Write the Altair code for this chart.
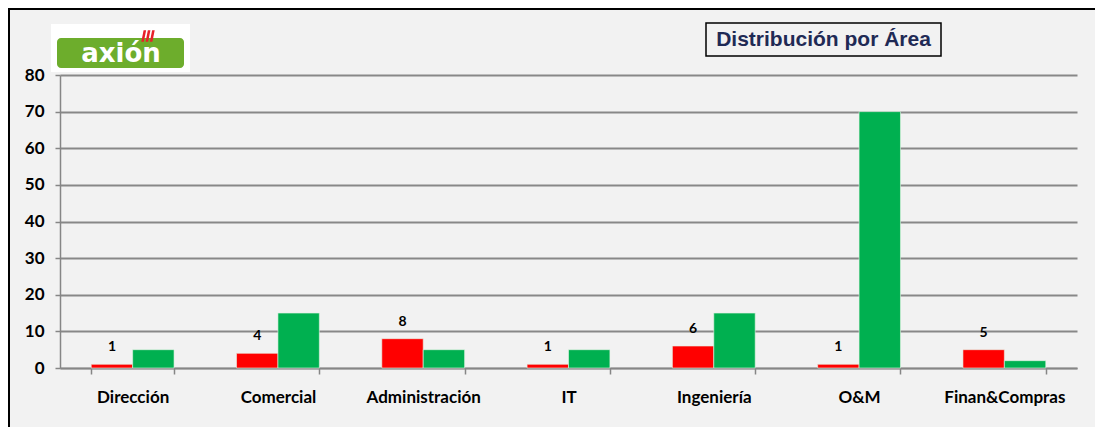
import altair as alt
import pandas as pd

areas = ["Dirección", "Comercial", "Administración", "IT", "Ingeniería", "O&M", "Finan&Compras"]
serie_roja = [1, 4, 8, 1, 6, 1, 5]
serie_verde = [5, 15, 5, 5, 15, 70, 2]
y_ticks = [0, 10, 20, 30, 40, 50, 60, 70, 80]
titulo = "Distribución por Área"
logo_texto = "axión"

rows = []
for a, r, g in zip(areas, serie_roja, serie_verde):
    rows.append({"area": a, "serie": "A", "valor": r})
    rows.append({"area": a, "serie": "B", "valor": g})
df = pd.DataFrame(rows)

W, H = 1017, 293
FONT = "Lato"

x_enc = alt.X("area:N", sort=areas, title=None,
              scale=alt.Scale(paddingInner=0.43, paddingOuter=0.215),
              axis=alt.Axis(labelAngle=0, labelFont=FONT, labelFontSize=17, labelFontWeight="bold",
                            labelColor="#000000", labelPadding=15, tickBand="extent", tickSize=6,
                            tickColor="#868686", tickWidth=1.5, domainColor="#868686", domainWidth=1.5))
xoff = alt.XOffset("serie:N", scale=alt.Scale(paddingInner=0, paddingOuter=0))
y_enc = alt.Y("valor:Q", title=None,
              scale=alt.Scale(domain=[0, 80], nice=False),
              axis=alt.Axis(values=y_ticks, labelFont=FONT, labelFontSize=17, labelFontWeight="bold",
                            labelColor="#000000", labelPadding=11, tickSize=5, tickColor="#868686",
                            tickWidth=1.5, domainColor="#868686", domainWidth=1.5, labelOverlap=False,
                            grid=True, gridColor="#888888", gridWidth=1.8))

base = alt.Chart(df)

bars = base.mark_bar(stroke="#e6f5e6", strokeWidth=0.6).encode(
    x=x_enc, xOffset=xoff, y=y_enc,
    color=alt.Color("serie:N", scale=alt.Scale(domain=["A", "B"], range=["#FF0000", "#00B050"]), legend=None),
)

labels = base.transform_filter(alt.datum.serie == "A").mark_text(
    font=FONT, fontSize=14, fontWeight="bold", color="#000000", dy=-17, baseline="middle"
).encode(x=x_enc, xOffset=xoff, y=y_enc, text="valor:Q")

# decorative frame: left and top edges
one = pd.DataFrame({"k": [0]})
frame_left = alt.Chart(one).mark_rule(color="#000000", strokeWidth=2).encode(
    x=alt.value(-51), y=alt.value(-67), y2=alt.value(H + 300))
frame_top = alt.Chart(one).mark_rule(color="#000000", strokeWidth=2).encode(
    x=alt.value(-52), x2=alt.value(W + 400), y=alt.value(-66))

# title box
tbox = alt.Chart(one).mark_rect(fill="#F2F2F2", stroke="#000000", strokeWidth=1.5).encode(
    x=alt.value(646), x2=alt.value(881), y=alt.value(-52), y2=alt.value(-19))
ttext = alt.Chart(pd.DataFrame({"t": [titulo]})).mark_text(
    font="Liberation Sans", fontSize=21, fontWeight="bold", color="#1F2A55", align="center", baseline="middle"
).encode(x=alt.value(763.5), y=alt.value(-35), text="t:N")

# logo
lbox = alt.Chart(one).mark_rect(fill="#FFFFFF").encode(
    x=alt.value(-9), x2=alt.value(130), y=alt.value(-51), y2=alt.value(-3))
lgreen = alt.Chart(one).mark_rect(fill="#6DAD2C", cornerRadius=4).encode(
    x=alt.value(-3), x2=alt.value(124), y=alt.value(-37), y2=alt.value(-7))
ltext = alt.Chart(pd.DataFrame({"t": [logo_texto]})).mark_text(
    font="DejaVu Sans", fontSize=26, fontWeight="bold", color="#FFFFFF", align="center", baseline="middle"
).encode(x=alt.value(61), y=alt.value(-21), text="t:N")
lmark = alt.Chart(one).mark_point(
    shape="M-1,1 L-0.55,1 L-0.15,-1 L-0.6,-1 Z M-0.25,1 L0.2,1 L0.6,-1 L0.15,-1 Z M0.5,1 L0.95,1 L1.35,-1 L0.9,-1 Z",
    filled=True, color="#E8202A", opacity=1, size=130
).encode(x=alt.value(87), y=alt.value(-39))

chart = alt.layer(frame_left, frame_top, bars, labels, tbox, ttext, lbox, lgreen, ltext, lmark).properties(
    width=W, height=H,
    autosize=alt.AutoSizeParams(type="none"),
    padding={"left": 52, "top": 67, "right": 18, "bottom": 59},
).configure(background="#F2F2F2").configure_view(stroke=None)

chart.save("out.html", embed_options={"renderer": "svg", "actions": False})
